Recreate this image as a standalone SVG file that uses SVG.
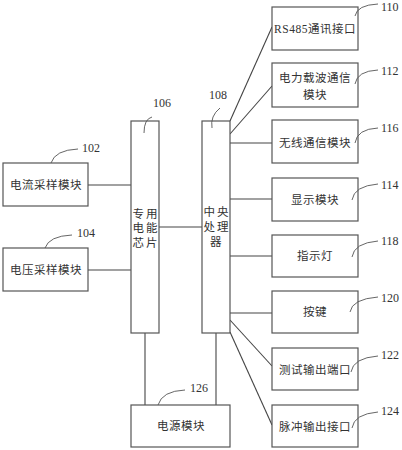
<svg xmlns="http://www.w3.org/2000/svg" width="402" height="450" viewBox="0 0 402 450">
<style>
.box{fill:#fff;stroke:#555;stroke-width:1.2}
.ln{fill:none;stroke:#444;stroke-width:1.1}
.cv{fill:none;stroke:#555;stroke-width:0.9}
.t{font-family:"Liberation Serif","Noto Sans CJK SC",serif;font-size:11.5px;fill:#333;text-anchor:middle;letter-spacing:0.5px}
.n{font-family:"Liberation Serif",serif;font-size:12px;fill:#333}
</style>
<rect width="402" height="450" fill="#fff"/>
<g id="connectors">
<line class="ln" x1="88" y1="185" x2="131" y2="185"/>
<line class="ln" x1="88" y1="270" x2="131" y2="270"/>
<line class="ln" x1="159" y1="227" x2="202" y2="227"/>
<line class="ln" x1="145" y1="333" x2="145" y2="405"/>
<line class="ln" x1="216" y1="333" x2="216" y2="405"/>
<line class="ln" x1="230" y1="121" x2="272" y2="27"/>
<line class="ln" x1="230" y1="134" x2="272" y2="86"/>
<line class="ln" x1="230" y1="143" x2="272" y2="143"/>
<line class="ln" x1="230" y1="199" x2="272" y2="199"/>
<line class="ln" x1="230" y1="256" x2="272" y2="256"/>
<line class="ln" x1="230" y1="313" x2="272" y2="313"/>
<line class="ln" x1="230" y1="320" x2="272" y2="366"/>
<line class="ln" x1="230" y1="332" x2="272" y2="425"/>
</g>
<g id="n102">
<rect class="box" x="3" y="163" width="85" height="43"/>
<text class="t" x="46" y="189">电流采样模块</text>
<path class="cv" d="M51,163 Q55,150 78,149"/>
<text class="n" x="82" y="152">102</text>
</g>
<g id="n104">
<rect class="box" x="3" y="248" width="85" height="43"/>
<text class="t" x="46" y="274">电压采样模块</text>
<path class="cv" d="M45,248 Q49,236 72,235"/>
<text class="n" x="77" y="237">104</text>
</g>
<g id="n106">
<rect class="box" x="131" y="121" width="28" height="212"/>
<text class="t" x="146" y="218" style="letter-spacing:2px">专用</text>
<text class="t" x="146" y="232" style="letter-spacing:2px">电能</text>
<text class="t" x="146" y="247" style="letter-spacing:2px">芯片</text>
<path class="cv" d="M144,133 Q144,119 152,117"/>
<text class="n" x="153" y="107">106</text>
</g>
<g id="n108">
<rect class="box" x="202" y="121" width="28" height="212"/>
<text class="t" x="217" y="216" style="letter-spacing:2px">中央</text>
<text class="t" x="217" y="231" style="letter-spacing:2px">处理</text>
<text class="t" x="216" y="246">器</text>
<path class="cv" d="M212,128 Q210,116 220,108"/>
<text class="n" x="209" y="99">108</text>
</g>
<g id="n110">
<rect class="box" x="272" y="7" width="86" height="43"/>
<text class="t" x="315" y="33">RS485通讯接口</text>
<path class="cv" d="M355,16 Q357,5 378,4"/>
<text class="n" x="381" y="11">110</text>
</g>
<g id="n112">
<rect class="box" x="272" y="63" width="86" height="44"/>
<text class="t" x="315" y="82">电力载波通信</text>
<text class="t" x="315" y="99">模块</text>
<path class="cv" d="M355,84 Q357,71 378,70"/>
<text class="n" x="381" y="75">112</text>
</g>
<g id="n116">
<rect class="box" x="272" y="120" width="86" height="43"/>
<text class="t" x="315" y="147">无线通信模块</text>
<path class="cv" d="M355,143 Q357,129 378,128"/>
<text class="n" x="381" y="132">116</text>
</g>
<g id="n114">
<rect class="box" x="272" y="178" width="86" height="43"/>
<text class="t" x="315" y="204">显示模块</text>
<path class="cv" d="M352,200 Q354,186 378,184"/>
<text class="n" x="381" y="189">114</text>
</g>
<g id="n118">
<rect class="box" x="272" y="235" width="86" height="42"/>
<text class="t" x="315" y="260">指示灯</text>
<path class="cv" d="M352,257 Q354,243 378,241"/>
<text class="n" x="381" y="245">118</text>
</g>
<g id="n120">
<rect class="box" x="272" y="291" width="86" height="42"/>
<text class="t" x="315" y="316">按键</text>
<path class="cv" d="M350,312 Q352,299 378,297"/>
<text class="n" x="381" y="302">120</text>
</g>
<g id="n122">
<rect class="box" x="272" y="348" width="86" height="42"/>
<text class="t" x="315" y="374">测试输出端口</text>
<path class="cv" d="M351,372 Q353,358 378,356"/>
<text class="n" x="381" y="359">122</text>
</g>
<g id="n124">
<rect class="box" x="272" y="405" width="86" height="42"/>
<text class="t" x="315" y="431">脉冲输出接口</text>
<path class="cv" d="M352,428 Q354,414 378,412"/>
<text class="n" x="381" y="415">124</text>
</g>
<g id="n126">
<rect class="box" x="131" y="405" width="99" height="42"/>
<text class="t" x="181" y="430">电源模块</text>
<path class="cv" d="M158,405 Q162,391 185,390"/>
<text class="n" x="190" y="392">126</text>
</g>
</svg>
